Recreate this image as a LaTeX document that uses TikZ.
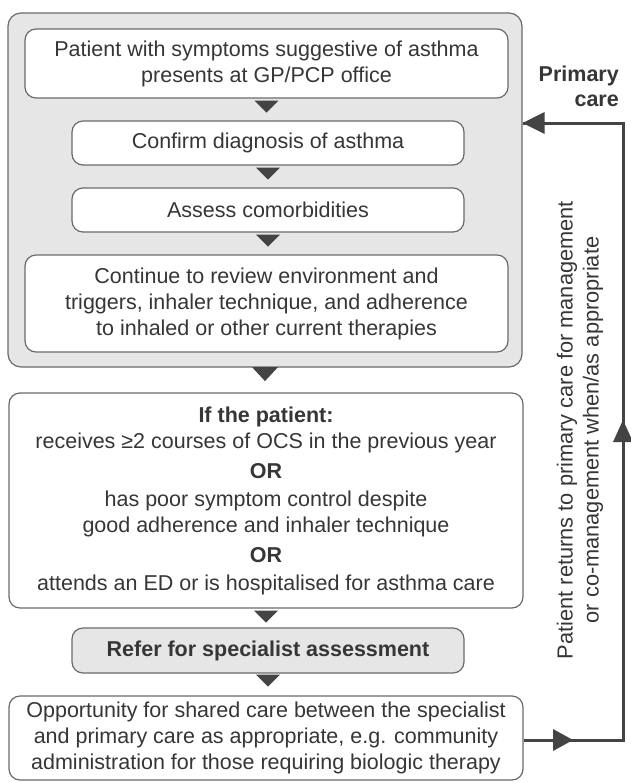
\documentclass[tikz,border=0pt]{standalone}
\usepackage{fontspec}
\setmainfont{Liberation Sans}
\usetikzlibrary{arrows.meta}
\definecolor{txt}{HTML}{363636}
\definecolor{edge}{HTML}{6A6A6A}
\definecolor{dark}{HTML}{444444}
\definecolor{panel}{HTML}{E6E6E6}
\tikzset{
  box/.style={draw=edge, line width=1.2pt, rounded corners=11pt, fill=white,
    text=txt, align=center, inner sep=0pt, font=\fontsize{21.5}{26}\selectfont},
  panelbox/.style={draw=edge, line width=1.2pt, rounded corners=13pt, fill=panel, inner sep=0pt},
  tri/.style={fill=dark},
  conn/.style={draw=dark, line width=3pt},
}
\newcommand{\downtri}[2]{\fill[tri] (#1) ++(-12,#2) -- ++(24,0) -- ++(-12,12) -- cycle;}
\begin{document}
\begin{tikzpicture}[x=1pt,y=-1pt]
\useasboundingbox (0,0) rectangle (631,782);
% outer primary-care panel
\node[panelbox, minimum width=514, minimum height=354] (outer) at (265,190) {};
\node[box, minimum width=483, minimum height=69] (b1) at (266.5,63.5)
  {Patient with symptoms suggestive of asthma\\presents at GP/PCP office};
\node[box, minimum width=392, minimum height=44] (b2) at (268,143)
  {Confirm diagnosis of asthma};
\node[box, minimum width=392, minimum height=44] (b3) at (268,210)
  {Assess comorbidities};
\node[box, minimum width=483, minimum height=97] (b4) at (266.5,303.5)
  {Continue to review environment and\\triggers, inhaler technique, and adherence\\to inhaled or other current therapies};
\node[box, minimum width=514, minimum height=215] (b5) at (266,500.5)
  {\textbf{If the patient:}\\receives ≥2 courses of OCS in the previous year\\[4pt]
   \textbf{OR}\\[2pt]has poor symptom control despite\\good adherence and inhaler technique\\[4pt]
   \textbf{OR}\\[2pt]attends an ED or is hospitalised for asthma care};
\node[box, fill=panel, minimum width=392, minimum height=45] (b6) at (268,650.5)
  {\textbf{Refer for specialist assessment}};
\node[box, minimum width=514, minimum height=84] (b7) at (266,738)
  {Opportunity for shared care between the specialist\\and primary care as appropriate, e.g. community\\administration for those requiring biologic therapy};
% down triangles
\downtri{b1.south}{2}
\downtri{b2.south}{2}
\downtri{b3.south}{2}
\fill[tri] (outer.south) ++(-13,-0.5) -- ++(26,0) -- ++(-13,14) -- cycle;
\downtri{b5.south}{2}
\downtri{b6.south}{1}
% return connector
\coordinate (c1) at (623,740);
\coordinate (c2) at (623,123);
\coordinate (c3) at (outer.east |- c2);
\draw[conn] (b7.east |- c1) -- (c1) -- (c2) -- (c3);
\fill[dark] (553,729) -- (573,740) -- (553,751) -- cycle;
\fill[dark] (613,442) -- (623,420) -- (633,442) -- cycle;
\fill[dark] (c3) -- ++(22,-11) -- ++(0,22) -- cycle;
% labels
\node[text=txt, rotate=90, align=center, inner sep=0pt, font=\fontsize{21.8}{26}\selectfont] (ret) at (580,430)
  {Patient returns to primary care for management\\or co-management when/as appropriate};
\node[text=txt, align=right, anchor=north east, inner sep=0pt, font=\bfseries\fontsize{21.5}{25}\selectfont] (pc) at (619,66)
  {Primary\\care};
\end{tikzpicture}
\end{document}
